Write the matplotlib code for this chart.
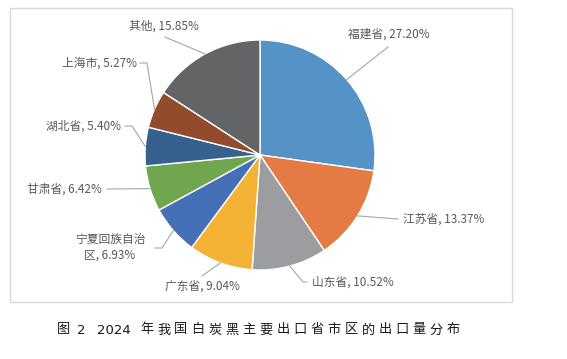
# Pie chart of silica (白炭黑) export share by province, 2024
import numpy as np
import matplotlib.pyplot as plt
from matplotlib.patches import Rectangle

plt.rcParams['font.family'] = ['Noto Sans CJK SC', 'DejaVu Sans']

# Data
provinces = ["福建省", "江苏省", "山东省", "广东省", "宁夏回族自治\n区", "甘肃省", "湖北省", "上海市", "其他"]
shares = [27.20, 13.37, 10.52, 9.04, 6.93, 6.42, 5.40, 5.27, 15.85]
colors = ["#5592C6", "#E47B45", "#9C9DA0", "#F5B335", "#4570B8", "#70A650", "#36608E", "#924B2D", "#636466"]

W, H = 567, 359
CX, CY, R = 260, 155, 115  # pie centre/radius in pixels (y from top)

# label layout in pixels: (label x, label y, ha, elbow point or None, line end near label)
label_layout = [
    (389, 34, "center", None, (388, 47)),
    (403, 219, "left", None, (398, 219)),
    (312, 282, "left", (303, 282), (307, 282)),
    (202, 286, "center", None, (202, 276)),
    (110, 248, "center", (162, 248), (155, 248)),
    (102, 189, "right", None, (107, 189)),
    (121, 126, "right", (132, 126), (125, 126)),
    (137, 63, "right", (147, 63), (140, 63)),
    (164, 26, "center", None, (165, 37)),
]

fig = plt.figure(figsize=(W / 100, H / 100), dpi=100)
ax = fig.add_axes([0, 0, 1, 1])

wedges, _ = ax.pie(shares, colors=colors, startangle=90, counterclock=False,
                   center=(CX, H - CY), radius=R,
                   wedgeprops=dict(edgecolor="white", linewidth=1.0))
ax.set_xlim(0, W)
ax.set_ylim(0, H)
ax.set_aspect("equal")
ax.axis("off")

# chart area frame
ax.add_patch(Rectangle((10, H - 302), 502, 294, fill=False, edgecolor="#D9D9D9", linewidth=1.0))

# labels with leader lines
for w, name, val, (lx, ly, ha, elbow, lend) in zip(wedges, provinces, shares, label_layout):
    ang = np.deg2rad((w.theta1 + w.theta2) / 2)
    px = CX + R * np.cos(ang)
    py = CY - R * np.sin(ang)
    pts = [(px, py)]
    if elbow is not None:
        pts.append(elbow)
    pts.append(lend)
    xs = [p[0] for p in pts]
    ys = [H - p[1] for p in pts]
    ax.plot(xs, ys, color="#A6A6A6", linewidth=0.8)
    ax.text(lx, H - ly, f"{name}, {val:.2f}%", ha=ha, va="center", fontsize=8.5,
            color="#595959", multialignment="center", linespacing=1.15)

# figure caption, spread out like the printed original
caption_tokens = ["图", "2", "2024"] + list("年我国白炭黑主要出口省市区的出口量分布")
x_pos = [57, 77, 97] + [140 + i * 17.05 for i in range(19)]
for tok, x in zip(caption_tokens, x_pos):
    fam = ["DejaVu Sans"] if tok.isdigit() else ["Noto Sans CJK SC", "DejaVu Sans"]
    fig.text(x / W, 1 - 330 / H, tok, ha="left", va="center", fontsize=9.5,
             color="#1A1A1A", family=fam)

fig.savefig("out.png", dpi=100)
